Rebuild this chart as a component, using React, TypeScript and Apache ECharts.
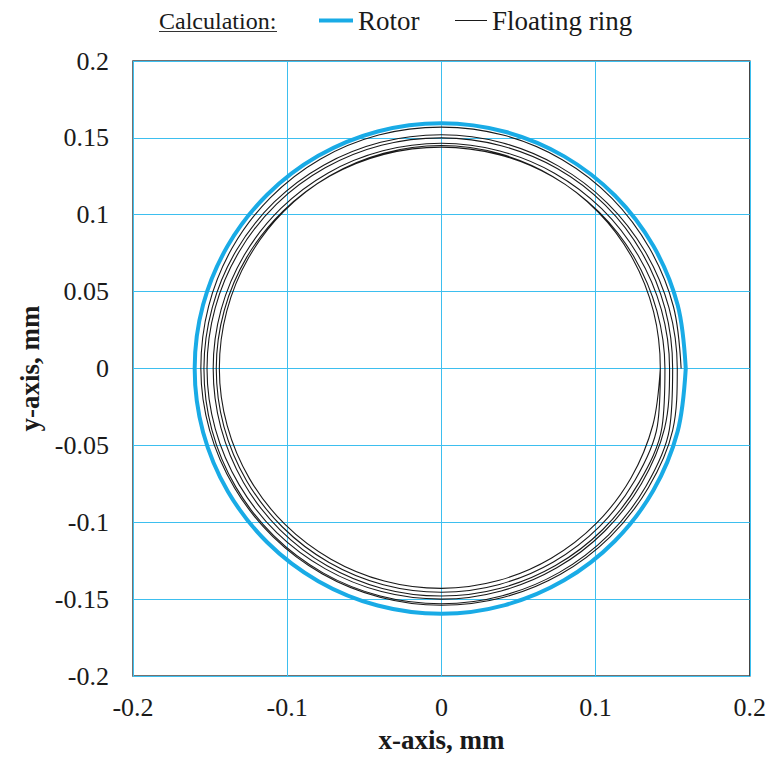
import { useEffect, useRef } from "react";
import * as echarts from "echarts";

const ANGLES_DEG = [0, 15, 30, 45, 60, 75, 90, 105, 120, 135, 150, 165, 180, 195, 210, 225, 240, 255, 270, 285, 300, 315, 330, 345];

// Rotor orbit radius (mm) at each angle
const ROTOR_R = [0.1585, 0.1587, 0.1589, 0.1591, 0.1593, 0.1594, 0.1595, 0.1596, 0.1597, 0.1598, 0.1599, 0.16, 0.16, 0.16, 0.1599, 0.1598, 0.1597, 0.1596, 0.1595, 0.1593, 0.1591, 0.1589, 0.1587, 0.1586];

// Floating ring orbit radius (mm), successive loops
const RING_LOOP_1 = [0.1555, 0.1558, 0.156, 0.1565, 0.1568, 0.157, 0.157, 0.1572, 0.1572, 0.157, 0.1567, 0.1563, 0.156, 0.1556, 0.155, 0.1546, 0.1543, 0.154, 0.154, 0.1542, 0.1545, 0.1548, 0.155, 0.1553];
const RING_LOOP_2 = [0.153, 0.1528, 0.1525, 0.1522, 0.152, 0.152, 0.152, 0.1523, 0.1527, 0.1532, 0.1536, 0.1538, 0.154, 0.1541, 0.154, 0.1538, 0.1535, 0.1532, 0.153, 0.153, 0.1531, 0.1532, 0.1532, 0.1531];
const RING_LOOP_3 = [0.15, 0.1502, 0.1503, 0.1503, 0.1502, 0.15, 0.15, 0.1503, 0.1507, 0.1512, 0.1516, 0.1519, 0.152, 0.1518, 0.1514, 0.151, 0.1505, 0.1502, 0.15, 0.1498, 0.1497, 0.1497, 0.1498, 0.1499];
const RING_LOOP_4 = [0.148, 0.1477, 0.1473, 0.147, 0.1467, 0.1465, 0.1465, 0.1466, 0.1469, 0.1472, 0.1476, 0.1479, 0.148, 0.1481, 0.1482, 0.1482, 0.1482, 0.1481, 0.148, 0.148, 0.148, 0.1481, 0.1481, 0.1481];
const RING_LOOP_5 = [0.145, 0.1447, 0.1445, 0.1443, 0.1441, 0.144, 0.144, 0.1442, 0.1446, 0.145, 0.1455, 0.1458, 0.146, 0.146, 0.1459, 0.1458, 0.1457, 0.1456, 0.1455, 0.1454, 0.1453, 0.1452, 0.1451, 0.145];
const RING_LOOP_6 = [0.142, 0.1425, 0.1432, 0.1438, 0.1443, 0.1447, 0.145, 0.1449, 0.1447, 0.1445, 0.1443, 0.1441, 0.144, 0.1438, 0.1436, 0.1434, 0.1432, 0.1431, 0.143, 0.1428, 0.1425, 0.1423, 0.1421, 0.142];

const SERIES_NAMES = ["Rotor", "Floating ring"];
const LEGEND_TITLE = "Calculation:";
const X_NAME = "x-axis, mm";
const Y_NAME = "y-axis, mm";

const FONT = "Liberation Serif";

function loopToXY(radii: number[]): number[][] {
  return radii.map((r, i) => {
    const a = (ANGLES_DEG[i] * Math.PI) / 180;
    return [r * Math.cos(a), r * Math.sin(a)];
  });
}

export default function App() {
  const ref = useRef<HTMLDivElement>(null);

  useEffect(() => {
    if (!ref.current) return;
    const chart = echarts.init(ref.current, undefined, { renderer: "svg" });

    const rotorData = loopToXY(ROTOR_R);
    rotorData.push(rotorData[0]);

    const loops = [RING_LOOP_1, RING_LOOP_2, RING_LOOP_3, RING_LOOP_4, RING_LOOP_5, RING_LOOP_6];
    const ringData: number[][] = [];
    loops.forEach((l) => ringData.push(...loopToXY(l)));
    ringData.push(loopToXY(RING_LOOP_6)[0]);

    const gridLine = { show: true, lineStyle: { color: "#3dbfef", width: 1 } };
    const tickLabel = { fontFamily: FONT, fontSize: 26, color: "#1a1a1a" };
    const nameStyle = { fontFamily: FONT, fontSize: 27, fontWeight: "bold" as const, color: "#1a1a1a" };
    const legendText = { fontFamily: FONT, fontSize: 27, color: "#1a1a1a" };

    chart.setOption({
      animation: false,
      backgroundColor: "#ffffff",
      grid: {
        left: 133,
        right: 17,
        top: 61,
        bottom: 84,
        show: true,
        borderColor: "#444",
        borderWidth: 1.5,
        backgroundColor: "transparent",
      },
      legend: [
        {
          data: [{ name: SERIES_NAMES[0], icon: "rect" }],
          left: 319,
          top: 7,
          padding: 0,
          itemWidth: 34,
          itemHeight: 4,
          textStyle: legendText,
        },
        {
          data: [{ name: SERIES_NAMES[1], icon: "rect" }],
          left: 455,
          top: 7,
          padding: 0,
          itemWidth: 32,
          itemHeight: 1,
          textStyle: legendText,
        },
      ],
      graphic: [
        {
          type: "text",
          left: 159,
          top: 9,
          style: { text: LEGEND_TITLE, font: `24px ${FONT}`, fill: "#1a1a1a" },
        },
        {
          type: "line",
          shape: { x1: 159, y1: 31.5, x2: 277, y2: 31.5 },
          style: { stroke: "#333", lineWidth: 1 },
        },
      ],
      xAxis: {
        type: "value",
        min: -0.2,
        max: 0.2,
        interval: 0.1,
        name: X_NAME,
        nameLocation: "middle",
        nameGap: 50,
        nameTextStyle: nameStyle,
        axisLine: { show: false },
        axisTick: { show: false },
        axisLabel: { ...tickLabel, margin: 18 },
        splitLine: gridLine,
      },
      yAxis: {
        type: "value",
        min: -0.2,
        max: 0.2,
        interval: 0.05,
        name: Y_NAME,
        nameLocation: "middle",
        nameGap: 88,
        nameRotate: 90,
        nameTextStyle: nameStyle,
        axisLine: { show: false },
        axisTick: { show: false },
        axisLabel: { ...tickLabel, margin: 24 },
        splitLine: gridLine,
      },
      series: [
        {
          name: SERIES_NAMES[1],
          type: "line",
          data: ringData,
          symbol: "none",
          smooth: 0.34,
          lineStyle: { color: "#1a1a1a", width: 1.1 },
          itemStyle: { color: "#1a1a1a" },
          z: 2,
        },
        {
          name: SERIES_NAMES[0],
          type: "line",
          data: rotorData,
          symbol: "none",
          smooth: 0.34,
          lineStyle: { color: "#19abe6", width: 4 },
          itemStyle: { color: "#19abe6" },
          z: 3,
        },
      ],
    });

    return () => chart.dispose();
  }, []);

  return (
    <div
      ref={ref}
      style={{ position: "absolute", left: 0, top: 0, width: "769px", height: "760px", background: "#fff" }}
    />
  );
}
